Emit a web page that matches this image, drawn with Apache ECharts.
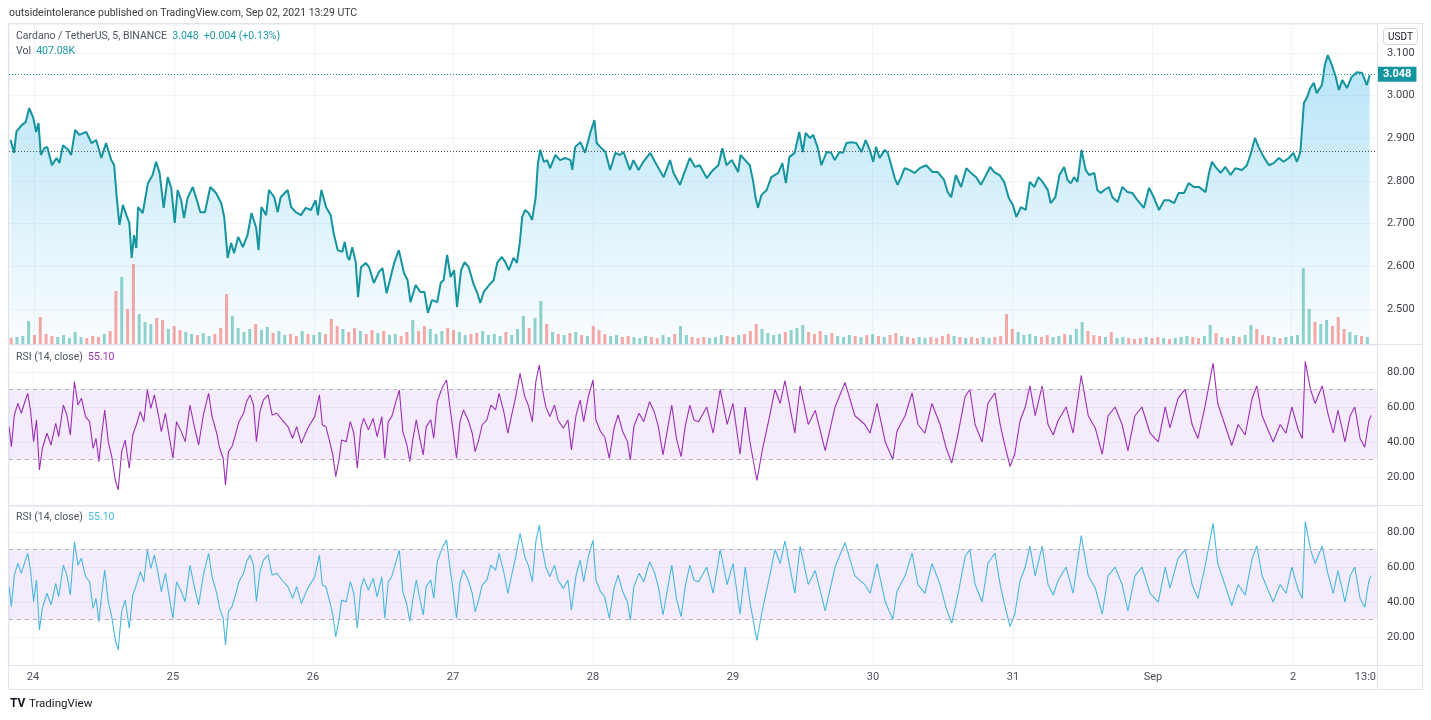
<!DOCTYPE html>
<html><head><meta charset="utf-8">
<script src="https://cdn.jsdelivr.net/npm/echarts@6/dist/echarts.min.js"></script>
<style>html,body{margin:0;padding:0;background:#fff}#c{width:1431px;height:720px}</style>
</head><body><div id="c"></div>
<script>
// ---- data (times in hours from 2021-08-24 00:00 UTC) ----
const baseTime = Date.UTC(2021, 7, 24);
const priceHours = [
-4.1,-3.5,-3.1,-2.2,-1.5,-0.9,-0.2,0.3,0.7,1.1,1.7,2.2,3.0,3.8,4.3,4.9,5.8,6.3,7.0,7.7,
8.9,9.8,10.6,11.5,12.3,13.2,13.7,14.1,14.6,15.2,15.8,16.3,16.7,17.1,17.5,17.8,18.6,19.5,20.3,20.9,
21.5,22.2,22.9,23.5,24.1,24.6,25.2,25.7,26.3,27.2,27.8,28.5,29.3,30.2,31.2,32.1,32.6,33.2,33.8,34.3,
35.0,35.8,36.6,37.3,38.1,38.5,39.0,39.8,40.3,41.2,41.8,42.3,43.5,44.1,44.9,45.8,46.6,47.5,48.3,48.7,
49.3,50.1,50.9,51.4,52.1,52.9,53.3,53.8,54.1,54.6,55.2,55.6,56.1,56.9,57.5,58.3,59.2,59.8,60.5,61.2,
61.8,62.6,63.5,64.1,64.6,65.5,66.3,67.0,67.6,68.3,69.2,69.8,70.3,70.9,71.5,72.1,72.6,73.3,73.9,74.6,
75.5,76.1,76.6,77.2,78.1,78.9,79.5,80.3,80.9,81.5,82.3,82.9,83.4,83.8,84.3,84.9,85.5,86.1,86.5,86.9,
87.5,88.1,88.6,89.5,90.3,91.2,92.1,92.4,92.9,93.8,94.6,95.5,96.2,96.6,97.2,98.1,98.9,99.8,100.6,101.2,
102.3,102.9,103.8,104.6,105.8,106.6,108.1,109.2,109.8,110.9,111.5,112.6,113.5,114.3,115.5,116.6,117.5,118.2,118.9,119.8,
120.3,120.9,121.3,122.1,122.9,123.5,123.9,124.3,124.9,125.8,126.6,127.8,128.5,129.1,129.7,130.6,131.4,132.0,132.5,133.2,
133.8,134.6,135.2,136.1,136.9,137.5,138.3,138.9,139.5,140.3,141.2,142.1,142.8,143.5,144.1,144.6,145.2,146.1,146.6,147.2,
147.8,148.3,148.9,149.5,150.3,151.2,152.1,153.2,154.3,155.2,156.3,156.9,157.5,158.3,159.2,160.1,160.9,161.8,162.6,163.5,
164.2,164.9,165.8,166.6,167.4,168.1,168.7,169.5,170.3,171.0,171.8,172.5,173.2,174.1,174.6,175.4,176.1,176.9,177.5,178.1,
178.6,179.2,179.9,180.6,181.2,182.1,182.6,183.2,183.8,184.6,185.2,186.1,186.9,187.8,188.6,189.5,190.6,191.5,192.3,193.2,
194.1,194.9,195.8,196.6,197.5,198.3,199.2,200.1,201.2,201.8,202.3,202.9,203.8,204.6,205.5,206.3,207.5,208.3,208.9,209.7,
210.3,211.2,212.1,212.9,213.8,214.6,215.5,216.3,216.9,217.5,218.1,218.6,219.2,219.8,220.3,221.2,221.7,222.2,222.9,223.5,
224.1,224.7,225.5,226.3,227.2,228.1,228.9,229.4
];
const priceValues = [
2.896,2.866,2.916,2.931,2.938,2.971,2.948,2.915,2.936,2.861,2.877,2.880,2.837,2.854,2.842,2.884,2.873,2.861,2.920,2.908,
2.915,2.889,2.896,2.854,2.889,2.849,2.837,2.767,2.697,2.744,2.720,2.702,2.620,2.673,2.643,2.739,2.725,2.795,2.814,2.845,
2.819,2.737,2.809,2.784,2.702,2.779,2.755,2.713,2.760,2.786,2.760,2.727,2.727,2.786,2.772,2.748,2.716,2.620,2.655,2.631,
2.669,2.645,2.673,2.725,2.690,2.638,2.739,2.720,2.779,2.762,2.727,2.762,2.779,2.739,2.727,2.720,2.737,2.732,2.755,2.720,
2.779,2.739,2.720,2.678,2.638,2.634,2.657,2.622,2.615,2.645,2.610,2.528,2.598,2.608,2.598,2.561,2.587,2.596,2.537,2.575,
2.608,2.638,2.584,2.568,2.516,2.556,2.540,2.540,2.491,2.521,2.516,2.561,2.568,2.627,2.575,2.591,2.505,2.591,2.610,2.598,
2.556,2.537,2.514,2.540,2.556,2.568,2.608,2.622,2.610,2.591,2.620,2.608,2.657,2.716,2.732,2.725,2.709,2.760,2.842,2.873,
2.845,2.849,2.830,2.861,2.849,2.854,2.849,2.826,2.880,2.891,2.866,2.913,2.943,2.889,2.880,2.868,2.826,2.866,2.861,2.868,
2.826,2.849,2.826,2.845,2.866,2.845,2.809,2.849,2.819,2.791,2.814,2.854,2.833,2.837,2.807,2.826,2.837,2.877,2.837,2.849,
2.837,2.821,2.861,2.849,2.837,2.798,2.760,2.737,2.767,2.779,2.809,2.819,2.842,2.795,2.856,2.866,2.915,2.868,2.913,2.901,
2.908,2.877,2.837,2.868,2.866,2.849,2.868,2.866,2.889,2.891,2.889,2.868,2.896,2.873,2.845,2.880,2.854,2.873,2.866,2.837,
2.807,2.791,2.809,2.830,2.826,2.819,2.830,2.837,2.821,2.821,2.802,2.774,2.762,2.814,2.786,2.830,2.819,2.809,2.791,2.814,
2.833,2.821,2.814,2.798,2.760,2.744,2.716,2.739,2.732,2.798,2.786,2.809,2.798,2.779,2.748,2.762,2.814,2.833,2.802,2.795,
2.809,2.798,2.873,2.826,2.814,2.819,2.779,2.772,2.779,2.786,2.762,2.751,2.786,2.774,2.772,2.755,2.737,2.784,2.762,2.732,
2.755,2.755,2.748,2.772,2.772,2.795,2.786,2.786,2.774,2.819,2.845,2.833,2.819,2.833,2.814,2.830,2.826,2.837,2.861,2.901,
2.880,2.856,2.837,2.842,2.854,2.845,2.854,2.866,2.845,2.868,2.983,2.995,3.018,3.030,3.006,3.025,3.072,3.095,3.072,3.048,
3.013,3.037,3.018,3.044,3.055,3.053,3.025,3.048
];
// hourly volume (K), first bar at hour -4
const volumeStartHour = -4;
const volumeValues = [
600,700,800,2300,
900,2700,1000,800,700,900,600,1200,700,600,800,700,1000,1300,5300,6700,3500,8000,3000,2200,2000,2600,2400,1500,
1800,1400,1200,1000,900,1100,800,1000,1600,5000,2800,1600,1200,1500,2000,1400,1700,1100,1300,900,1000,800,1300,1000,
900,1200,1000,2500,1800,1500,1200,1600,1300,1000,1400,1100,1300,900,1000,800,1200,2400,1300,1800,1500,1000,1300,1600,
1400,1200,900,1000,1100,1300,900,1000,800,1200,900,1500,2800,1600,2600,4300,2000,1200,1000,900,1100,1200,900,800,
1800,1400,1000,800,900,700,800,700,600,800,700,600,900,700,1000,1800,900,700,600,700,600,700,900,800,
700,900,1000,1300,2000,1500,1100,900,1000,1200,1400,1600,1900,1200,1000,1300,900,1100,800,700,900,800,700,900,
1000,800,700,900,1100,800,700,600,700,600,700,600,800,1000,800,700,600,700,600,700,600,700,800,3000,
1500,1200,900,1000,800,700,900,700,800,1000,900,1500,2200,1300,900,800,700,1200,600,700,600,500,600,700,
600,700,600,500,600,700,800,700,600,800,1900,1100,700,600,800,700,900,1900,1500,900,800,700,600,700,
800,900,7600,3500,2200,2000,2400,1800,2700,1500,1200,900,800,700
];
const rsiHours = [
-4.1,-3.7,-3.2,-2.6,-2.0,-1.4,-0.9,-0.4,0.1,0.6,1.1,1.6,2.4,3.1,3.9,4.4,5.2,5.8,6.4,7.1,
7.7,8.3,9.0,9.7,10.3,10.8,11.3,11.8,12.3,12.9,13.5,14.1,14.6,15.2,15.8,16.5,17.1,17.7,18.4,19.0,
19.6,20.2,20.8,21.5,22.0,22.7,23.3,24.0,24.6,25.3,26.1,26.9,27.6,28.4,29.2,30.1,30.7,31.5,32.0,32.6,
33.0,33.5,34.1,34.7,35.3,36.1,36.6,37.2,37.8,38.3,38.9,39.5,40.3,41.0,41.8,42.7,43.7,44.5,45.2,46.0,
47.1,48.3,49.1,49.6,50.2,50.8,51.4,51.9,52.5,52.9,53.7,54.4,55.0,55.6,56.2,56.7,57.5,58.3,59.0,59.8,
60.3,60.9,61.5,62.3,62.8,63.4,64.1,64.6,65.1,65.7,66.3,66.9,67.4,68.2,68.7,69.3,70.1,70.9,71.5,72.0,
72.6,73.2,73.8,74.6,75.3,75.8,76.4,77.0,77.8,78.5,79.3,79.9,80.7,81.4,82.0,82.7,83.5,84.3,84.9,85.6,
86.2,86.8,87.3,87.9,88.6,89.4,90.0,90.9,91.7,92.3,93.1,93.8,94.4,95.2,96.0,96.5,97.3,98.0,98.8,99.6,
100.3,101.1,101.9,102.4,103.0,103.9,104.7,105.7,106.5,107.2,108.0,108.8,109.5,110.3,111.1,111.8,112.6,113.3,114.1,115.5,
116.6,117.8,119.0,120.0,121.2,122.1,122.9,124.1,125.0,126.3,127.2,128.1,128.9,130.6,131.5,132.9,134.1,135.8,137.5,139.2,
140.9,142.6,143.5,144.7,146.1,147.4,148.1,149.5,150.7,151.7,152.9,154.1,155.5,156.5,157.5,158.6,159.8,160.6,161.5,162.7,
163.7,164.9,165.8,166.6,167.5,168.3,169.2,170.1,170.9,171.8,173.0,174.0,174.9,175.7,177.1,178.3,179.7,180.9,182.1,183.3,
184.3,185.5,186.7,187.7,188.9,190.1,191.5,192.9,194.1,194.9,196.3,197.5,198.7,199.7,200.9,202.3,203.1,204.3,205.5,206.6,
207.8,209.0,209.8,210.7,211.7,212.6,213.8,214.8,215.8,216.9,217.6,218.1,219.0,219.8,221.0,222.0,222.9,223.7,224.4,224.9,
225.8,226.6,227.5,228.3,229.0,229.4
];
const rsiValues = [
48.8,37.3,55.4,62.1,56.4,63.0,67.8,57.3,40.2,52.6,24.0,36.4,45.0,38.3,50.7,43.0,61.1,55.4,44.0,74.5,
61.1,65.0,54.5,51.6,36.4,42.1,28.8,45.0,58.3,40.2,31.6,18.3,12.6,34.5,41.1,25.0,44.0,49.7,57.3,51.6,
69.7,59.2,66.9,55.4,45.9,56.4,44.0,30.7,51.6,46.9,40.2,61.1,49.7,38.3,55.4,67.8,54.5,45.0,36.4,30.7,
15.4,34.5,37.3,44.0,51.6,56.4,63.0,66.9,61.1,40.2,57.3,64.0,66.9,55.4,56.4,52.6,48.8,42.1,48.8,39.2,
47.8,54.5,66.9,49.7,48.8,41.1,32.6,20.2,30.7,41.1,40.2,51.6,45.0,25.0,47.8,53.5,46.9,53.5,43.0,54.5,
30.7,51.6,54.5,64.0,69.7,45.9,38.3,28.8,41.1,52.6,42.1,32.6,48.8,52.6,42.1,63.0,70.7,75.4,59.2,46.9,
30.7,51.6,58.3,52.6,45.0,34.5,41.1,49.7,52.6,61.1,58.3,67.8,57.3,45.0,54.5,65.0,79.2,65.9,61.1,51.6,
74.5,84.0,70.7,60.2,54.5,61.1,52.6,47.8,52.6,35.4,55.4,64.0,51.6,65.9,75.4,52.6,45.9,43.0,30.7,47.8,
55.4,45.9,40.2,29.7,48.8,56.4,51.6,63.0,57.3,48.8,32.6,47.8,61.1,42.1,31.6,48.8,61.1,52.6,51.6,60,
45,70,50,62,33,60,40,18,35,55,70,62,75,45,72,50,58,35,60,74,
55,50,45,62,40,30,46,55,68,50,45,62,50,37,28,45,66,70,50,40,
62,68,50,38,26,33,52,60,72,55,72,50,44,52,60,45,78,55,48,33,
55,60,50,35,55,60,45,40,60,48,65,70,50,42,60,85,62,50,38,50,
44,65,72,55,47,40,50,45,60,47,42,86,70,62,72,56,45,58,48,40,
55,60,42,37,52,55.1
];
const priceTicksFormat = 3;
const lastPrice = 3.048;
const prevClose = 2.868;
const rsiUpper = 70, rsiLower = 30;
const monthNames = ['Jan','Feb','Mar','Apr','May','Jun','Jul','Aug','Sep','Oct','Nov','Dec'];

// ---- build ----
const H = 3600000;
const toT = h => baseTime + h * H;
const priceData = priceHours.map((h, i) => [toT(h), priceValues[i]]);
const rsiData = rsiHours.map((h, i) => [toT(h), rsiValues[i]]);
function priceAt(h) {
  if (h <= priceHours[0]) return priceValues[0];
  for (let i = 1; i < priceHours.length; i++) {
    if (h <= priceHours[i]) {
      const t = (h - priceHours[i-1]) / (priceHours[i] - priceHours[i-1]);
      return priceValues[i-1] + t * (priceValues[i] - priceValues[i-1]);
    }
  }
  return priceValues[priceValues.length - 1];
}
const upCol = 'rgba(38,166,154,0.5)', dnCol = 'rgba(239,83,80,0.5)';
const volumeData = volumeValues.map((v, i) => {
  const h = volumeStartHour + i;
  const up = priceAt(h + 0.5) >= priceAt(h - 0.5);
  return { value: [toT(h), v], itemStyle: { color: up ? upCol : dnCol } };
});

const FONT = "'Trebuchet MS', Roboto, sans-serif";
const xMin = toT(-4.114), xMax = toT(230.4);
const gridL = 9, gridR = 54;
const split = { show: true, lineStyle: { color: '#f0f3fa', width: 1 } };

function xAx(i, showLabel) {
  return {
    type: 'time', gridIndex: i, min: xMin, max: xMax,
    minInterval: 24 * H, maxInterval: 24 * H,
    axisLine: { show: false }, axisTick: { show: false },
    splitLine: split,
    axisLabel: {
      show: showLabel, color: '#4a4e5a', fontSize: 11, fontFamily: FONT, margin: 7,
      formatter: v => { const d = new Date(v); return d.getUTCDate() === 1 ? monthNames[d.getUTCMonth()] : String(d.getUTCDate()); }
    }
  };
}
function rsiY(i, max) {
  return {
    type: 'value', gridIndex: i, position: 'right', min: 4, max: max, splitNumber: 5,
    axisLine: { show: false }, axisTick: { show: false }, splitLine: split,
    axisLabel: { color: '#3c3f48', fontSize: 11, fontFamily: FONT, margin: 10, showMinLabel: false, showMaxLabel: false,
      formatter: v => v.toFixed(2) }
  };
}
function rsiSeries(idx, color) {
  return {
    type: 'line', xAxisIndex: idx, yAxisIndex: idx + 1, data: rsiData, showSymbol: false,
    lineStyle: { color: color, width: 1.1 }, z: 3, silent: true,
    markArea: { silent: true, itemStyle: { color: 'rgba(156,80,230,0.11)' },
      data: [[{ yAxis: rsiLower }, { yAxis: rsiUpper }]] },
    markLine: { silent: true, symbol: 'none', label: { show: false },
      lineStyle: { color: '#b4b0bd', type: [4, 4], width: 1 },
      data: [{ yAxis: rsiUpper }, { yAxis: rsiLower }] }
  };
}

const frame = '#e0e3eb';
function ln(x1, y1, x2, y2, c) { return { type: 'line', silent: true, z: 50, shape: { x1, y1, x2, y2 }, style: { stroke: c || frame, lineWidth: 1 } }; }
function tx(x, y, text, opts) {
  return { type: 'text', x, y, silent: true, z: 60, style: Object.assign({ text, fill: '#3a3a3a', fontSize: 10.5, fontFamily: FONT, verticalAlign: 'middle' }, opts || {}) };
}
const legendRich = (c) => ({ a: { fill: '#4c525e', fontSize: 10.5, fontFamily: FONT }, b: { fill: c, fontSize: 10.5, fontFamily: FONT } });

const option = {
  useUTC: true,
  animation: false,
  backgroundColor: '#fff',
  grid: [
    { left: gridL, right: gridR, top: 24, height: 320 },
    { left: gridL, right: gridR, top: 345, height: 160 },
    { left: gridL, right: gridR, top: 506, height: 159 }
  ],
  xAxis: [xAx(0, false), xAx(1, false), xAx(2, true)],
  yAxis: [
    { type: 'value', gridIndex: 0, position: 'right', min: 2.418, max: 3.168, splitNumber: 8,
      axisLine: { show: false }, axisTick: { show: false }, splitLine: split,
      axisLabel: { color: '#3c3f48', fontSize: 11, fontFamily: FONT, margin: 10, showMinLabel: false, showMaxLabel: false,
        formatter: v => v.toFixed(priceTicksFormat) } },
    { type: 'value', gridIndex: 0, min: 0, max: 32000, show: false, splitLine: { show: false } },
    rsiY(1, 95.4),
    rsiY(2, 94.9)
  ],
  series: [
    { type: 'bar', xAxisIndex: 0, yAxisIndex: 1, data: volumeData, barWidth: 3, z: 3, silent: true },
    { type: 'line', xAxisIndex: 0, yAxisIndex: 0, data: priceData, showSymbol: false, z: 2, silent: true,
      lineStyle: { color: '#13949e', width: 2 },
      areaStyle: { origin: 'start', color: new echarts.graphic.LinearGradient(0, 0, 0, 1, [
        { offset: 0, color: 'rgba(50,178,232,0.5)' }, { offset: 0.6, color: 'rgba(50,178,232,0.22)' }, { offset: 1, color: 'rgba(50,178,232,0.04)' }]) },
      markLine: { silent: true, symbol: 'none', animation: false,
        data: [
          { yAxis: lastPrice, lineStyle: { color: '#13949e', type: [1, 2], width: 1 },
            label: { show: true, position: 'end', distance: 1, formatter: lastPrice.toFixed(3), color: '#fff',
              backgroundColor: '#13949e', padding: [2, 5, 2, 5], fontSize: 11, fontFamily: FONT, fontWeight: 'bold' } },
          { yAxis: prevClose, lineStyle: { color: '#555', type: [1, 2], width: 1 }, label: { show: false } }
        ] } },
    rsiSeries(1, '#9b2fb5'),
    rsiSeries(2, '#47b8e0')
  ],
  graphic: [
    ln(8, 23.5, 1423, 23.5), ln(8.5, 24, 8.5, 690), ln(1422.5, 24, 1422.5, 690), ln(1377.5, 24, 1377.5, 690),
    ln(8, 344.5, 1423, 344.5), ln(8, 505.5, 1423, 505.5), ln(8, 665.5, 1423, 665.5), ln(8, 689.5, 1423, 689.5),
    tx(9, 13, 'outsideintolerance published on TradingView.com, Sep 02, 2021 13:29 UTC', { fill: '#3a3a3a' }),
    tx(16, 36, '{a|Cardano / TetherUS, 5, BINANCE}  {b|3.048}  {b|+0.004 (+0.13%)}', { rich: legendRich('#1a9aa4') }),
    tx(16, 51, '{a|Vol}  {b|407.08K}', { rich: legendRich('#1a9aa4') }),
    tx(16, 357, '{a|RSI (14, close)}  {b|55.10}', { rich: legendRich('#9b2fb5') }),
    tx(16, 517, '{a|RSI (14, close)}  {b|55.10}', { rich: legendRich('#47b8e0') }),
    { type: 'rect', silent: true, z: 55, shape: { x: 1383.5, y: 28.5, width: 34, height: 16, r: 3 }, style: { fill: '#fff', stroke: '#d1d4dc', lineWidth: 1 } },
    tx(1400.5, 37, 'USDT', { align: 'center', fontSize: 10, fill: '#131722' }),
    tx(1376, 677, '13:0', { align: 'right', fill: '#4a4e5a', fontSize: 11 }),
    tx(10, 704, 'TV', { fontSize: 12, fontWeight: 'bold', fill: '#131722', fontFamily: 'Roboto, sans-serif' }),
    tx(29, 704, 'TradingView', { fontSize: 11.5, fill: '#131722' })
  ]
};
const chart = echarts.init(document.getElementById('c'));
chart.setOption(option);
</script></body></html>
